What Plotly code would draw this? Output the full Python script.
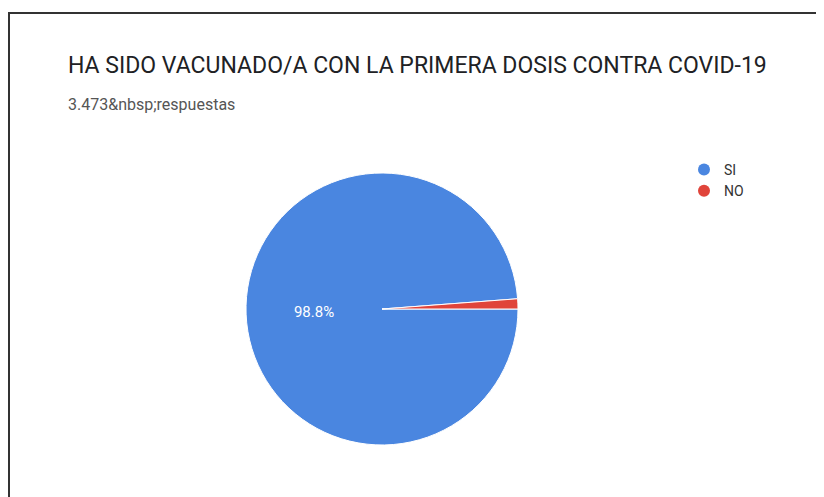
import plotly.graph_objects as go

categories = ["SI", "NO"]
values = [98.8, 1.2]
colors = ["#4a86e0", "#e0443a"]
title_text = "HA SIDO VACUNADO/A CON LA PRIMERA DOSIS CONTRA COVID-19"
subtitle_text = "3.473&amp;nbsp;respuestas"

W, H = 824, 497
fig = go.Figure()

fig.add_trace(go.Pie(
    labels=categories, values=values,
    marker=dict(colors=colors, line=dict(color="white", width=1)),
    sort=False, direction="clockwise", rotation=90,
    textinfo="percent", texttemplate=["%{percent:.1%}", ""],
    textposition="inside", insidetextorientation="horizontal",
    textfont=dict(color="white", size=15, family="Roboto"),
    showlegend=False, hoverinfo="skip",
    domain=dict(x=[238 / W, 510 / W], y=[60 / H, 332 / H]),
))

for name, c in zip(categories, colors):
    fig.add_trace(go.Scatter(
        x=[None], y=[None], mode="markers", name=name,
        marker=dict(symbol="circle", size=13, color=c),
    ))

fig.update_layout(
    width=W, height=H,
    margin=dict(l=0, r=0, t=0, b=0),
    paper_bgcolor="white", plot_bgcolor="white",
    xaxis=dict(visible=False), yaxis=dict(visible=False),
    font=dict(family="Roboto", color="#333"),
    legend=dict(x=676 / W, y=1 - 146 / H, xanchor="left", yanchor="top",
                font=dict(size=14, color="#333", family="Roboto"),
                itemsizing="constant", itemwidth=30, tracegroupgap=0,
                bgcolor="rgba(0,0,0,0)"),
    annotations=[
        dict(text=title_text, x=58 / W, y=1 - 42 / H, xref="paper", yref="paper",
             xanchor="left", yanchor="top", showarrow=False,
             font=dict(size=23, color="#202124", family="Roboto")),
        dict(text=subtitle_text, x=58 / W, y=1 - 85 / H, xref="paper", yref="paper",
             xanchor="left", yanchor="top", showarrow=False,
             font=dict(size=16, color="#555", family="Roboto")),
    ],
    shapes=[dict(type="rect", xref="paper", yref="paper",
                 x0=1 / W, x1=1.02, y0=-0.02, y1=1 - 5 / H,
                 line=dict(color="#333", width=2))],
)

fig.write_html("out.html")
